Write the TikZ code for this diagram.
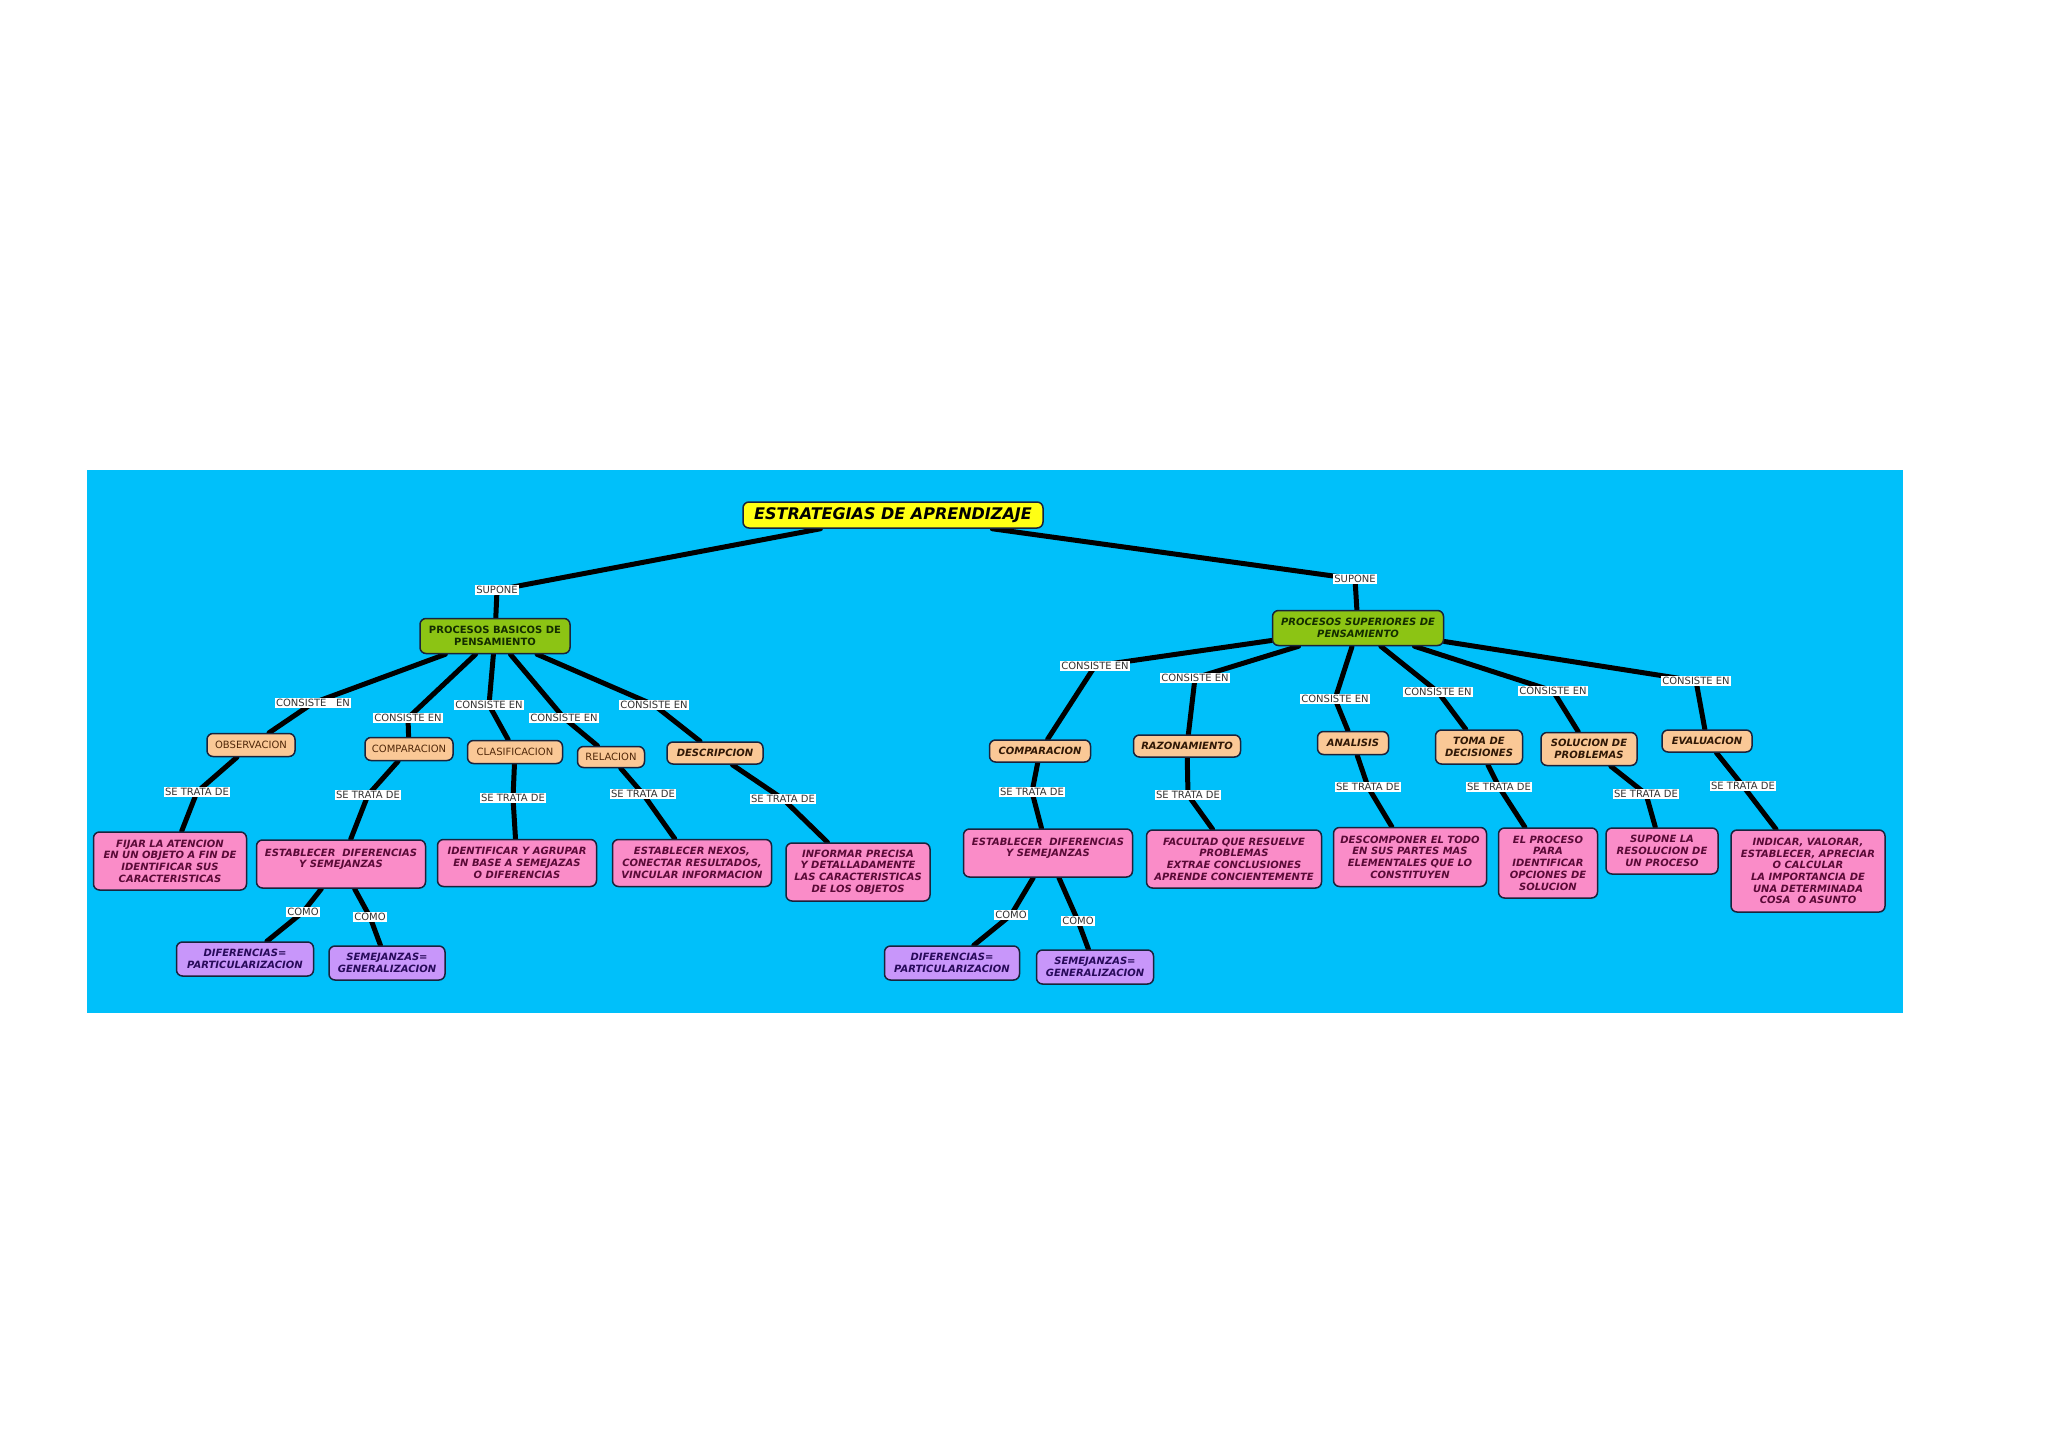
\documentclass[tikz,border=0pt]{standalone}
\usepackage{fontspec}
\setmainfont{DejaVu Sans}
\pgfdeclarelayer{bg}
\pgfdeclarelayer{lines}
\pgfsetlayers{bg,lines,main}
\definecolor{skyb}{RGB}{0,192,250}
\definecolor{ttl}{RGB}{255,255,20}
\definecolor{grn}{RGB}{140,196,20}
\definecolor{peach}{RGB}{250,200,150}
\definecolor{pink}{RGB}{250,140,200}
\definecolor{lila}{RGB}{200,150,250}
\definecolor{boxline}{RGB}{25,35,60}
\definecolor{pinktext}{RGB}{90,10,55}
\definecolor{lilatext}{RGB}{40,10,90}
\definecolor{peachtext}{RGB}{80,40,10}
\definecolor{grntext}{RGB}{20,45,0}
\definecolor{labtext}{RGB}{50,50,50}
\tikzset{
  box/.style={draw=boxline, line width=1.5pt, rounded corners=6pt, align=center, inner sep=2pt},
  ttlbox/.style={box, fill=ttl, text=black, font=\fontsize{16}{19}\selectfont\bfseries\itshape},
  grnbox/.style={box, fill=grn, text=grntext, font=\fontsize{10}{11.7}\selectfont\bfseries},
  peachbox/.style={box, fill=peach, text=peachtext, font=\fontsize{10}{11.7}\selectfont},
  peachbi/.style={box, fill=peach, text=peachtext!60!black, font=\fontsize{10}{11.7}\selectfont\bfseries\itshape},
  pinkbox/.style={box, fill=pink, text=pinktext, font=\fontsize{10}{11.7}\selectfont\bfseries\itshape},
  lilabox/.style={box, fill=lila, text=lilatext, font=\fontsize{10}{11.7}\selectfont\bfseries\itshape},
  lab/.style={fill=white, text=labtext, inner xsep=1.5pt, inner ysep=0.8pt, font=\fontsize{10}{12}\selectfont},
  conn/.style={draw=black, line width=5pt, line cap=round, line join=round},
  sz/.style 2 args={minimum width=#1pt, minimum height=#2pt}
}
\begin{document}
\begin{tikzpicture}[x=1pt,y=-1pt]
\useasboundingbox (0,0) rectangle (2048,1448);
\begin{pgfonlayer}{bg}
\fill[white] (0,0) rectangle (2048,1448);
\fill[skyb] (87,470) rectangle (1903,1013);
\end{pgfonlayer}

% top
\node[ttlbox, sz={300}{26}] (title) at (893,515) {ESTRATEGIAS DE APRENDIZAJE};
\node[grnbox, sz={150}{35}] (pb) at (495,636) {PROCESOS BASICOS DE\\PENSAMIENTO};
\node[grnbox, font=\fontsize{10}{11.7}\selectfont\bfseries\itshape, sz={171}{35}] (ps) at (1358,628) {PROCESOS SUPERIORES DE\\PENSAMIENTO};

% level 2 left
\node[peachbox, sz={88}{23}] (obs) at (251,745) {OBSERVACION};
\node[peachbox, sz={88}{23}] (compL) at (409,749) {COMPARACION};
\node[peachbox, sz={95}{23}] (clas) at (515,752) {CLASIFICACION};
\node[peachbox, sz={67}{21}] (rel) at (611,757) {RELACION};
\node[peachbi, sz={96}{22}] (desc) at (715,753) {DESCRIPCION};

% level 2 right
\node[peachbi, sz={101}{22}] (compR) at (1040,751) {COMPARACION};
\node[peachbi, sz={107}{22}] (raz) at (1187,746) {RAZONAMIENTO};
\node[peachbi, sz={71}{23}] (anal) at (1353,743) {ANALISIS};
\node[peachbi, sz={87}{34}] (toma) at (1479,747) {TOMA DE\\DECISIONES};
\node[peachbi, sz={96}{33}] (sol) at (1589,749) {SOLUCION DE\\PROBLEMAS};
\node[peachbi, sz={90}{22}] (eval) at (1707,741) {EVALUACION};

% level 3
\node[pinkbox, sz={153}{58}] (fijar) at (170,861) {FIJAR LA ATENCION\\EN UN OBJETO A FIN DE\\IDENTIFICAR SUS\\CARACTERISTICAS};
\node[pinkbox, sz={169}{48}] (estL) at (341,864) {ESTABLECER\ \ DIFERENCIAS\\Y SEMEJANZAS\\\mbox{}};
\node[pinkbox, sz={159}{47}] (ident) at (517,863) {IDENTIFICAR Y AGRUPAR\\EN BASE A SEMEJAZAS\\O DIFERENCIAS};
\node[pinkbox, sz={159}{47}] (nexos) at (692,863) {ESTABLECER NEXOS,\\CONECTAR RESULTADOS,\\VINCULAR INFORMACION};
\node[pinkbox, sz={144}{58}] (inform) at (858,872) {INFORMAR PRECISA\\Y DETALLADAMENTE\\LAS CARACTERISTICAS\\DE LOS OBJETOS};
\node[pinkbox, sz={169}{48}] (estR) at (1048,853) {ESTABLECER\ \ DIFERENCIAS\\Y SEMEJANZAS\\\mbox{}};
\node[pinkbox, sz={175}{58}] (facul) at (1234,859) {FACULTAD QUE RESUELVE\\PROBLEMAS\\EXTRAE CONCLUSIONES\\APRENDE CONCIENTEMENTE};
\node[pinkbox, sz={153}{59}] (descomp) at (1410,857) {DESCOMPONER EL TODO\\EN SUS PARTES MAS\\ELEMENTALES QUE LO\\CONSTITUYEN};
\node[pinkbox, sz={99}{70}] (proc) at (1548,863) {EL PROCESO\\PARA\\IDENTIFICAR\\OPCIONES DE\\SOLUCION};
\node[pinkbox, sz={112}{46}] (supla) at (1662,851) {SUPONE LA\\RESOLUCION DE\\UN PROCESO};
\node[pinkbox, sz={154}{82}] (indic) at (1808,871) {INDICAR, VALORAR,\\ESTABLECER, APRECIAR\\O CALCULAR\\LA IMPORTANCIA DE\\UNA DETERMINADA\\COSA\ \ O ASUNTO};

% level 4
\node[lilabox, sz={137}{34}] (difL) at (245,959) {DIFERENCIAS=\\PARTICULARIZACION};
\node[lilabox, sz={116}{34}] (semL) at (387,963) {SEMEJANZAS=\\GENERALIZACION};
\node[lilabox, sz={135}{34}] (difR) at (952,963) {DIFERENCIAS=\\PARTICULARIZACION};
\node[lilabox, sz={117}{34}] (semR) at (1095,967) {SEMEJANZAS=\\GENERALIZACION};

% labels
\node[lab] (sup1) at (497,590) {SUPONE};
\node[lab] (sup2) at (1355,579) {SUPONE};
\node[lab] (c1) at (313,703) {CONSISTE\ \ \ EN};
\node[lab] (c2) at (408,718) {CONSISTE EN};
\node[lab] (c3) at (489,705) {CONSISTE EN};
\node[lab] (c4) at (564,718) {CONSISTE EN};
\node[lab] (c5) at (654,705) {CONSISTE EN};
\node[lab] (c6) at (1095,666) {CONSISTE EN};
\node[lab] (c7) at (1195,678) {CONSISTE EN};
\node[lab] (c8) at (1335,699) {CONSISTE EN};
\node[lab] (c9) at (1438,692) {CONSISTE EN};
\node[lab] (c10) at (1553,691) {CONSISTE EN};
\node[lab] (c11) at (1696,681) {CONSISTE EN};
\node[lab] (s1) at (197,792) {SE TRATA DE};
\node[lab] (s2) at (368,795) {SE TRATA DE};
\node[lab] (s3) at (513,798) {SE TRATA DE};
\node[lab] (s4) at (643,794) {SE TRATA DE};
\node[lab] (s5) at (783,799) {SE TRATA DE};
\node[lab] (s6) at (1032,792) {SE TRATA DE};
\node[lab] (s7) at (1188,795) {SE TRATA DE};
\node[lab] (s8) at (1368,787) {SE TRATA DE};
\node[lab] (s9) at (1499,787) {SE TRATA DE};
\node[lab] (s10) at (1646,794) {SE TRATA DE};
\node[lab] (s11) at (1743,786) {SE TRATA DE};
\node[lab] (m1) at (303,912) {COMO};
\node[lab] (m2) at (370,917) {COMO};
\node[lab] (m3) at (1011,915) {COMO};
\node[lab] (m4) at (1078,921) {COMO};

\begin{pgfonlayer}{lines}
\draw[conn] (title) -- (sup1.center) -- (pb);
\draw[conn] (title) -- (sup2.center) -- (ps);
\draw[conn] (pb) -- (c1.center) -- (obs);
\draw[conn] (pb) -- (c2.center) -- (compL);
\draw[conn] (pb) -- (c3.center) -- (clas);
\draw[conn] (pb) -- (c4.center) -- (rel);
\draw[conn] (pb) -- (c5.center) -- (desc);
\draw[conn] (ps) -- (c6.center) -- (compR);
\draw[conn] (ps) -- (c7.center) -- (raz);
\draw[conn] (ps) -- (c8.center) -- (anal);
\draw[conn] (ps) -- (c9.center) -- (toma);
\draw[conn] (ps) -- (c10.center) -- (sol);
\draw[conn] (ps) -- (c11.center) -- (eval);
\draw[conn] (obs) -- (s1.center) -- (fijar);
\draw[conn] (compL) -- (s2.center) -- (estL);
\draw[conn] (clas) -- (s3.center) -- (ident);
\draw[conn] (rel) -- (s4.center) -- (nexos);
\draw[conn] (desc) -- (s5.center) -- (inform);
\draw[conn] (compR) -- (s6.center) -- (estR);
\draw[conn] (raz) -- (s7.center) -- (facul);
\draw[conn] (anal) -- (s8.center) -- (descomp);
\draw[conn] (toma) -- (s9.center) -- (proc);
\draw[conn] (sol) -- (s10.center) -- (supla);
\draw[conn] (eval) -- (s11.center) -- (indic);
\draw[conn] (estL) -- (m1.center) -- (difL);
\draw[conn] (estL) -- (m2.center) -- (semL);
\draw[conn] (estR) -- (m3.center) -- (difR);
\draw[conn] (estR) -- (m4.center) -- (semR);
\end{pgfonlayer}
\end{tikzpicture}
\end{document}
